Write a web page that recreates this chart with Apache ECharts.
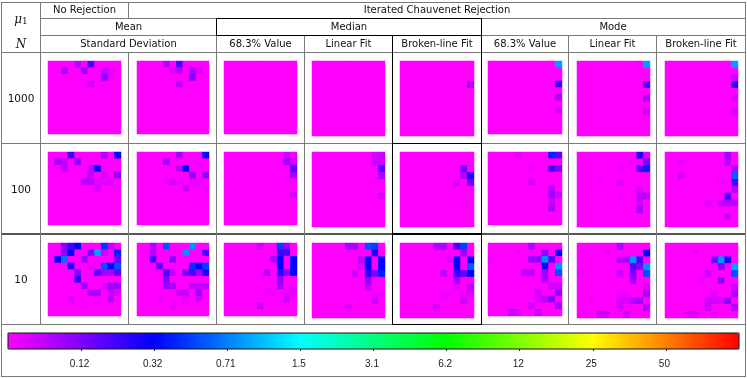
<!DOCTYPE html>
<html>
<head>
<meta charset="utf-8">
<title>Chauvenet rejection maps</title>
<style>
html,body{margin:0;padding:0;background:#fff}
#chart{width:747px;height:378px;filter:blur(0.35px)}
</style>
<script src="https://cdn.jsdelivr.net/npm/echarts@6/dist/echarts.min.js"></script>
</head>
<body>
<div id="chart"></div>
<script>
// colour bar: tick values sit at even steps along the bar
var barValues = [0, 0.12, 0.32, 0.71, 1.5, 3.1, 6.2, 12, 25, 50, 100];
var barLabels = ['', '0.12', '0.32', '0.71', '1.5', '3.1', '6.2', '12', '25', '50', ''];
var barColors = ['#ff00ff', '#0000ff', '#00ffff', '#00ff00', '#ffff00', '#ff0000'];

var rowLabels = ['1000', '100', '10'];
var colLabels = ['Standard Deviation', '68.3% Value', 'Linear Fit', 'Broken-line Fit', '68.3% Value', 'Linear Fit', 'Broken-line Fit'];

// each map is 11x11, only cells off the background are listed: [col, row, value]
var n1000_noRej = [[4,0,.06],[6,0,.175],[2,1,.08],[5,1,.09],[8,1,.05],[9,1,.03],[8,2,.105],[9,2,.02],[6,3,.045]];
var n1000_meanSd = [[4,0,.075],[6,0,.175],[5,1,.03],[6,1,.06],[8,1,.08],[9,1,.04],[8,2,.12],[6,3,.06]];
var n1000_medVal = [];
var n1000_medLin = [];
var n1000_medBrk = [[10,3,.075]];
var n1000_modVal = [[10,0,.85],[10,3,.195],[10,5,.075],[10,7,.045]];
var n1000_modLin = [[9,0,.015],[10,0,.85],[10,3,.175],[10,5,.075],[10,7,.045]];
var n1000_modBrk = [[10,0,.85],[10,2,.045],[10,3,.22],[10,5,.03],[10,7,.035]];

var n100_noRej = [[3,0,.195],[8,0,.075],[10,0,.32],[1,1,.09],[2,1,.05],[4,1,.105],[2,2,.06],[6,2,.06],[7,2,.32],[6,3,.06],[8,3,.035],[10,3,.105],[5,4,.06],[6,4,.06],[7,4,.02],[8,4,.02],[9,4,.03],[7,5,.035],[10,5,.015]];
var n100_meanSd = [[6,0,.09],[10,0,.35],[4,1,.09],[9,1,.015],[6,2,.06],[7,2,.32],[8,3,.105],[10,3,.105],[4,4,.015],[5,4,.035],[6,4,.015],[8,4,.02],[9,4,.02],[7,5,.05],[10,5,.015],[10,6,.01]];
var n100_medVal = [[9,0,.045],[10,0,.015],[9,1,.09],[10,1,.045],[10,2,.155],[10,3,.09],[9,4,.015],[10,6,.035]];
var n100_medLin = [[9,0,.035],[10,0,.045],[9,1,.045],[10,1,.045],[10,2,.155],[10,3,.075],[9,4,.015],[10,6,.035]];
var n100_medBrk = [[9,2,.135],[9,3,.075],[10,3,.25],[8,4,.03],[10,4,.135],[9,7,.015]];
var n100_modVal = [[4,0,.02],[9,0,.39],[10,0,.155],[6,2,.015],[9,2,.195],[10,2,.12],[6,4,.03],[9,5,.06],[9,6,.09],[10,6,.045],[9,7,.05],[9,8,.08]];
var n100_modLin = [[9,0,.25],[10,0,.03],[8,1,.015],[9,1,.015],[10,1,.12],[6,2,.015],[9,2,.155],[10,2,.39],[3,4,.015],[6,4,.03],[9,5,.03],[6,6,.015],[9,6,.06],[10,6,.06],[9,7,.045],[9,8,.08]];
var n100_modBrk = [[9,0,.09],[2,1,.015],[9,1,.06],[10,2,.075],[2,3,.035],[10,3,.58],[8,4,.015],[10,4,.175],[10,5,.065],[9,6,.175],[6,7,.03],[8,7,.045],[9,7,.075],[10,7,.06],[9,9,.045]];

var n10_noRej = [[2,0,.12],[3,0,.195],[4,0,.32],[8,0,.43],[9,0,.06],[2,1,.105],[3,1,.32],[6,1,.12],[7,1,.85],[8,1,.045],[10,1,.39],[1,2,.32],[2,2,.65],[5,2,.09],[10,2,.135],[3,3,.25],[6,3,.03],[8,3,.53],[9,3,.32],[10,3,.53],[4,4,.12],[7,4,.155],[8,4,.09],[9,4,.08],[10,4,.155],[4,5,.22],[5,6,.09],[8,6,.03],[9,6,.09],[10,6,.09],[6,7,.075],[7,7,.075],[9,7,.06],[10,7,.03],[3,8,.03],[7,8,.015],[9,8,.065],[5,9,.015]];
var n10_meanSd = [[2,0,.075],[4,0,.53],[8,0,.78],[2,1,.06],[7,1,.78],[10,1,.175],[2,2,.175],[5,2,.105],[3,3,.155],[8,3,.43],[9,3,.32],[10,3,.48],[4,4,.175],[5,4,.06],[7,4,.135],[8,4,.175],[9,4,.09],[10,4,.25],[4,5,.12],[4,6,.09],[5,6,.08],[8,6,.06],[9,6,.06],[10,6,.06],[6,7,.05],[7,7,.05],[9,7,.09],[3,8,.015],[7,8,.02],[9,8,.045],[5,9,.02]];
var n10_medVal = [[5,0,.045],[8,0,.48],[9,0,.09],[8,1,.195],[9,1,.175],[7,2,.075],[8,2,.32],[10,2,.32],[8,3,.32],[10,3,.32],[6,4,.075],[8,4,.22],[9,4,.12],[10,4,.32],[8,5,.105],[8,6,.09],[10,6,.015],[6,7,.015],[7,7,.015],[9,7,.02],[10,7,.02],[9,8,.045],[5,9,.05]];
var n10_medLin = [[5,0,.08],[6,0,.075],[8,0,.53],[9,0,.48],[9,1,.25],[7,2,.06],[8,2,.32],[10,2,.32],[7,3,.03],[8,3,.32],[10,3,.32],[6,4,.045],[8,4,.22],[9,4,.12],[10,4,.39],[8,5,.105],[8,6,.06],[9,7,.015],[10,7,.015],[9,8,.045],[5,9,.03]];
var n10_medBrk = [[5,0,.075],[6,0,.075],[8,0,.175],[9,0,.48],[9,1,.09],[7,2,.03],[8,2,.32],[10,2,.32],[8,3,.32],[10,3,.58],[6,4,.05],[8,4,.195],[9,4,.155],[10,4,.32],[8,5,.09],[8,6,.02],[10,6,.06],[6,7,.015],[7,7,.015],[9,7,.02],[10,7,.03],[9,8,.045],[5,9,.035]];
var n10_modVal = [[6,0,.075],[4,1,.015],[8,1,.105],[10,1,.32],[0,2,.015],[6,2,.09],[7,2,.105],[8,2,.78],[9,2,.155],[8,3,.32],[10,3,.78],[5,4,.06],[6,4,.06],[8,4,.09],[10,4,.53],[8,5,.08],[9,6,.045],[10,6,.045],[7,7,.045],[10,7,.105],[7,8,.03],[8,8,.06],[9,8,.105],[6,9,.035],[10,9,.075],[3,10,.05],[4,10,.03],[7,10,.06]];
var n10_modLin = [[6,0,.075],[4,1,.015],[10,1,.32],[6,2,.06],[7,2,.075],[8,2,.78],[9,2,.175],[8,3,.155],[9,3,.12],[10,3,.78],[0,4,.015],[6,4,.045],[8,4,.12],[10,4,.53],[8,5,.09],[10,6,.035],[6,7,.015],[7,7,.015],[10,7,.075],[2,8,.015],[6,8,.03],[7,8,.035],[8,8,.06],[9,8,.09],[6,9,.035],[10,9,.06],[3,10,.045],[4,10,.045],[7,10,.045]];
var n10_modBrk = [[4,1,.015],[7,2,.135],[8,2,.78],[9,2,.25],[8,3,.12],[10,3,.85],[6,4,.045],[10,4,.53],[5,5,.015],[8,5,.105],[10,6,.045],[7,7,.03],[10,7,.08],[6,8,.05],[7,8,.035],[8,8,.035],[9,8,.105],[6,9,.05],[10,9,.075],[3,10,.03],[4,10,.035],[7,10,.015]];

var maps = [
	[n1000_noRej, n1000_meanSd, n1000_medVal, n1000_medLin, n1000_medBrk, n1000_modVal, n1000_modLin, n1000_modBrk],
	[n100_noRej, n100_meanSd, n100_medVal, n100_medLin, n100_medBrk, n100_modVal, n100_modLin, n100_modBrk],
	[n10_noRej, n10_meanSd, n10_medVal, n10_medLin, n10_medBrk, n10_modVal, n10_modLin, n10_modBrk]
];

var cellIndex = [0, 1, 2, 3, 4, 5, 6, 7, 8, 9, 10];

// layout of the table
var mapLefts = [48, 137, 224, 312, 400, 488, 577, 665];
var mapWidths = [73, 72, 73, 73, 74, 74, 73, 73];
var mapTops = [61, 152, 243];
var mapHeights = [73, 73, 73, 75, 75, 73, 75, 75];

var font = '"DejaVu Sans", sans-serif';
var gray = '#7a7a7a';
var black = '#000';

// place a value along the colour bar, 0..1
function barPos(v) {
	if (v <= 0) return 0;
	for (var i = 1; i < barValues.length; i++) {
		if (v <= barValues[i]) {
			var f;
			if (i == 1) f = v / barValues[1];
			else f = Math.log(v / barValues[i - 1]) / Math.log(barValues[i] / barValues[i - 1]);
			return (i - 1 + f) / 10;
		}
	}
	return 1;
}

function cells(list) {
	var out = [];
	var lookup = {};
	list.forEach(function(c) {
		lookup[c[0] + '_' + c[1]] = c[2];
	});
	cellIndex.forEach(function(r) {
		cellIndex.forEach(function(c) {
			out.push([c, r, barPos(lookup[c + '_' + r] || 0)]);
		});
	});
	return out;
}

function line(x1, y1, x2, y2, color, width) {
	return {
		type: 'line',
		silent: true,
		z: color == black ? 6 : 5,
		shape: { x1: x1, y1: y1, x2: x2, y2: y2 },
		style: { stroke: color, lineWidth: width || 1 }
	};
}

function label(txt, x, y, size, extra) {
	return {
		type: 'text',
		silent: true,
		z: 7,
		x: x,
		y: y,
		style: Object.assign({
			text: txt,
			font: (size || 10) + 'px ' + font,
			fill: '#111',
			align: 'center',
			verticalAlign: 'middle'
		}, extra || {})
	};
}

var grids = [], xAxes = [], yAxes = [], series = [];
maps.forEach(function(row, r) {
	row.forEach(function(list, c) {
		var idx = grids.length;
		// magenta behind the cells so the seams between them do not show white
		grids.push({ left: mapLefts[c], top: mapTops[r], width: mapWidths[c], height: mapHeights[c], show: true, backgroundColor: barColors[0], borderWidth: 0 });
		xAxes.push({ type: 'category', gridIndex: idx, data: cellIndex, show: false });
		yAxes.push({ type: 'category', gridIndex: idx, data: cellIndex, show: false, inverse: true });
		series.push({
			type: 'heatmap',
			xAxisIndex: idx,
			yAxisIndex: idx,
			data: cells(list),
			silent: true,
			emphasis: { disabled: true }
		});
	});
});

// colour bar axis, ticks only
var barGrid = grids.length;
grids.push({ left: 8, top: 333, width: 731, height: 16, show: true, borderColor: '#111', borderWidth: 1, z: 8 });
xAxes.push({
	type: 'value',
	gridIndex: barGrid,
	min: 0,
	max: 10,
	interval: 1,
	splitLine: { show: false },
	axisLine: { show: false },
	axisTick: { show: true, length: 2, lineStyle: { color: '#222' } },
	axisLabel: {
		margin: 10,
		padding: [0, 3, 0, 0],
		color: '#222',
		fontFamily: 'Liberation Sans',
		fontSize: 10,
		showMinLabel: false,
		showMaxLabel: false,
		formatter: function(v) { return barLabels[v]; }
	}
});
yAxes.push({ type: 'value', gridIndex: barGrid, show: false, min: 0, max: 1 });

var table = [
	// gray rules
	line(1, 2.5, 745, 2.5, gray),
	line(40, 18.5, 745, 18.5, gray),
	line(40, 35.5, 745, 35.5, gray),
	line(1, 52.5, 745, 52.5, gray),
	line(1, 143.5, 745, 143.5, gray),
	line(1, 234, 745, 234, '#555', 2),
	line(1, 324.5, 745, 324.5, gray),
	line(1, 376.5, 745, 376.5, gray),
	line(1.5, 2, 1.5, 377, gray),
	line(745.5, 2, 745.5, 377, gray),
	line(40.5, 2, 40.5, 325, gray),
	line(128.5, 2, 128.5, 18, gray),
	line(128.5, 52, 128.5, 325, gray),
	line(216.5, 18, 216.5, 325, gray),
	line(304.5, 35, 304.5, 325, gray),
	line(568.5, 35, 568.5, 325, gray),
	line(656.5, 35, 656.5, 325, gray),
	// black boxes round the median and its broken-line column
	line(216, 18.5, 482, 18.5, black),
	line(216, 35.5, 482, 35.5, black),
	line(216.5, 18, 216.5, 36, black),
	line(392.5, 35, 392.5, 325, black),
	line(481.5, 18, 481.5, 325, black),
	line(392, 143.5, 482, 143.5, black),
	line(392, 234, 482, 234, black, 2),
	line(392, 324.5, 482, 324.5, black),
	// headers
	label('No Rejection', 84.5, 10.5),
	label('Iterated Chauvenet Rejection', 437, 10.5),
	label('Mean', 128.5, 27.5),
	label('Median', 349, 27.5),
	label('Mode', 613, 27.5),
	label('N', 21, 44.5, 12, { font: 'italic 12px "DejaVu Serif", serif' }),
	{
		type: 'text', silent: true, z: 7, x: 21, y: 20,
		style: {
			text: '{a|μ}{b|1}',
			align: 'center',
			verticalAlign: 'middle',
			rich: {
				a: { font: 'italic 12px "DejaVu Serif", serif', fill: '#111' },
				b: { font: '9px "DejaVu Serif", serif', fill: '#111', padding: [4, 0, 0, 0] }
			}
		}
	}
];
var colCenters = [128.5, 260.5, 348.5, 437, 525, 612.5, 701];
colLabels.forEach(function(txt, i) {
	table.push(label(txt, colCenters[i], 44.5));
});
var rowCenters = [99.5, 190, 280.5];
rowLabels.forEach(function(txt, i) {
	table.push(label(txt, 21, rowCenters[i], 10.5));
});

var myChart = echarts.init(document.getElementById('chart'));
myChart.setOption({
	animation: false,
	grid: grids,
	xAxis: xAxes,
	yAxis: yAxes,
	visualMap: {
		type: 'continuous',
		min: 0,
		max: 1,
		orient: 'horizontal',
		left: 8,
		top: 333,
		padding: 0,
		itemWidth: 16,
		itemHeight: 731,
		calculable: false,
		realtime: false,
		hoverLink: false,
		showLabel: false,
		text: null,
		seriesIndex: series.map(function(s, i) { return i; }),
		inRange: { color: barColors }
	},
	series: series,
	graphic: table
});
</script>
</body>
</html>
